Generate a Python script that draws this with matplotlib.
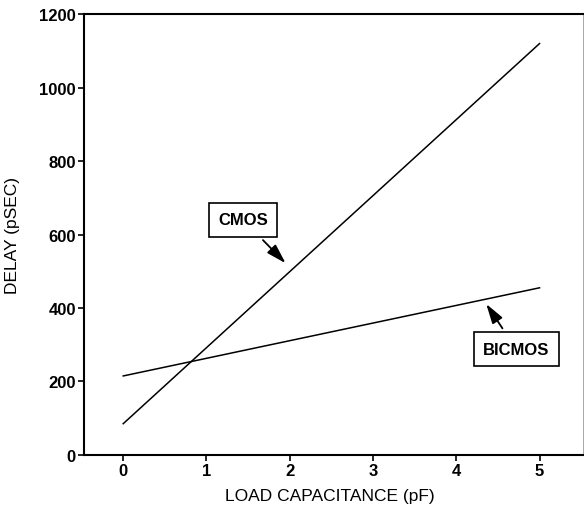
import numpy as np
import matplotlib.pyplot as plt

plt.rcParams['font.family'] = ['Liberation Sans', 'DejaVu Sans']

# load capacitance (pF) and delay (ps)
load_pf = [0, 5]
cmos_ps = [85, 1120]
bicmos_ps = [215, 455]

x_ticks = [0, 1, 2, 3, 4, 5]
y_ticks = [0, 200, 400, 600, 800, 1000, 1200]

fig = plt.figure(figsize=(5.84, 5.06), dpi=100)
ax = fig.add_axes([0.144, 0.099, 0.854, 0.871])

ax.plot(load_pf, cmos_ps, color='black', lw=1.1)
ax.plot(load_pf, bicmos_ps, color='black', lw=1.1)

ax.set_xlim(-0.47, 5.52)
ax.set_ylim(0, 1200)
ax.set_xticks(x_ticks)
ax.set_yticks(y_ticks)
ax.tick_params(direction='out', length=4, width=1.2, labelsize=12, pad=2)
for lab in ax.get_xticklabels() + ax.get_yticklabels():
    lab.set_fontweight('bold')
for s in ax.spines.values():
    s.set_linewidth(1.5)
ax.spines['right'].set_linewidth(0.6)
ax.spines['right'].set_color('#999999')

ax.set_xlabel('LOAD CAPACITANCE (pF)', fontsize=12.5)
ax.set_ylabel('DELAY (pSEC)', fontsize=12.5)
ax.xaxis.set_label_coords(0.493, -0.074)
ax.yaxis.set_label_coords(-0.128, 0.5)

# labels with arrows
box = dict(boxstyle='square,pad=0.55', fc='white', ec='black', lw=1.2)
arr = dict(arrowstyle='-|>,head_length=1.0,head_width=0.3', color='black', lw=1.3, shrinkA=3, shrinkB=0)
ax.annotate('CMOS', xy=(1.95, 522), xytext=(1.44, 640), fontsize=12, fontweight='bold',
            ha='center', va='center', bbox=box, arrowprops=arr)
ax.annotate('BICMOS', xy=(4.36, 411), xytext=(4.72, 288), fontsize=12, fontweight='bold',
            ha='center', va='center', bbox=box, arrowprops=arr)

fig.savefig('out.png', dpi=100)
